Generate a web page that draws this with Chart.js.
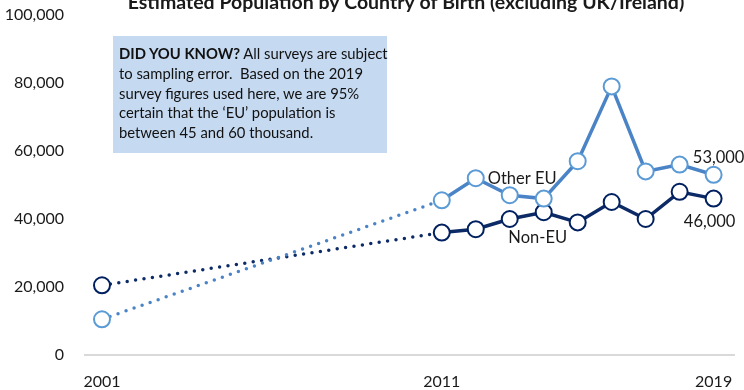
<!DOCTYPE html>
<html>
<head>
<meta charset="utf-8">
<script src="https://cdn.jsdelivr.net/npm/chart.js@4.4.1/dist/chart.umd.min.js"></script>
<style>
  html, body { margin: 0; padding: 0; background: #fff; }
  #wrap { position: relative; width: 744px; height: 390px; overflow: hidden; }
  #note {
    position: absolute; left: 113px; top: 36px; width: 268px; height: 109px;
    background: #c5d9f0; padding: 8px 0 0 6px;
    font-family: Lato, "Open Sans", sans-serif; font-size: 14.8px; line-height: 19.8px; color: #111;
    white-space: nowrap;
  }
</style>
</head>
<body>
<div id="wrap">
  <canvas id="chart" width="744" height="390"></canvas>
  <div id="note"><b>DID YOU KNOW?</b> All surveys are subject<br>to sampling error.&nbsp; Based on the 2019<br>survey figures used here, we are 95%<br>certain that the ‘EU’ population is<br>between 45 and 60 thousand.</div>
</div>
<script>
// DATA
let years = [2001, 2011, 2012, 2013, 2014, 2015, 2016, 2017, 2018, 2019];
let otherEU = [10500, 45500, 52000, 47000, 46000, 57000, 79000, 54000, 56000, 53000];
let nonEU = [20500, 36000, 37000, 40000, 42000, 39000, 45000, 40000, 48000, 46000];
let xTicks = [2001, 2011, 2019];
let yTicks = [0, 20000, 40000, 60000, 80000, 100000];
let title = 'Estimated Population by Country of Birth (excluding UK/Ireland)';

let font = 'Lato, "Open Sans", sans-serif';

function points(vals) {
    return years.map((y, i) => ({ x: y, y: vals[i] }));
}

// dotted between 2001 and 2011 (no data in between)
let gapDash = ctx => ctx.p1.parsed.x - ctx.p0.parsed.x > 1 ? [0, 8.5] : undefined;

// text labels next to the lines
let labelPlugin = {
    id: 'labels',
    afterDatasetsDraw(chart) {
        let c = chart.ctx;
        let m0 = chart.getDatasetMeta(0).data;
        let m1 = chart.getDatasetMeta(1).data;
        let last = years.length - 1;
        c.save();
        c.fillStyle = '#1a1a1a';
        c.font = '16.5px ' + font;
        c.textBaseline = 'middle';
        c.textAlign = 'left';
        c.fillText('Other EU', m0[2].x + 12, m0[2].y);
        c.textAlign = 'center';
        c.fillText('Non-EU', m1[4].x - 6, m1[4].y + 25);
        c.fillText(otherEU[last].toLocaleString('en-US'), m0[last].x + 5, m0[last].y - 17);
        c.fillText(nonEU[last].toLocaleString('en-US'), m1[last].x - 4, m1[last].y + 23);
        // title, cut off at the top like the original
        c.font = 'bold 19.5px ' + font;
        c.textBaseline = 'alphabetic';
        c.fillText(title, 406, 9);
        c.restore();
    }
};

let ctx = document.querySelector('#chart').getContext('2d');

let chart = new Chart(ctx, {
    type: 'line',
    data: {
        datasets: [{
            label: 'Other EU',
            data: points(otherEU),
            borderColor: '#4a84c6',
            borderWidth: 3.5,
            borderCapStyle: 'round',
            pointRadius: 8,
            pointBorderWidth: 2,
            pointBorderColor: '#5b9bd5',
            pointBackgroundColor: '#fff',
            segment: { borderDash: gapDash }
        }, {
            label: 'Non-EU',
            data: points(nonEU),
            borderColor: '#0b2a66',
            borderWidth: 3.5,
            borderCapStyle: 'round',
            pointRadius: 8,
            pointBorderWidth: 2,
            pointBorderColor: '#002060',
            pointBackgroundColor: '#fff',
            segment: { borderDash: gapDash }
        }]
    },
    options: {
        responsive: false,
        animation: false,
        layout: { padding: { left: 0, right: 10, top: 15, bottom: 0 } },
        plugins: {
            legend: { display: false },
            tooltip: { enabled: false }
        },
        scales: {
            x: {
                type: 'linear',
                min: 2000.5,
                max: 2019.6,
                afterBuildTicks: s => { s.ticks = xTicks.map(v => ({ value: v })); },
                afterFit: s => { s.height = 35; s.paddingLeft = 0; s.paddingRight = 0; },
                grid: { display: false },
                border: { color: '#d9d9d9', width: 2 },
                ticks: {
                    padding: 9,
                    color: '#1a1a1a',
                    font: { family: font, size: 16 },
                    callback: v => String(v)
                }
            },
            y: {
                min: 0,
                max: 100000,
                afterBuildTicks: s => { s.ticks = yTicks.map(v => ({ value: v })); },
                afterFit: s => { s.width = 85; s.paddingTop = 0; s.paddingBottom = 0; },
                grid: { display: false },
                border: { display: false },
                ticks: {
                    padding: 13,
                    color: '#1a1a1a',
                    font: { family: font, size: 16 },
                    callback: v => v.toLocaleString('en-US')
                }
            }
        }
    },
    plugins: [labelPlugin]
});
</script>
</body>
</html>
